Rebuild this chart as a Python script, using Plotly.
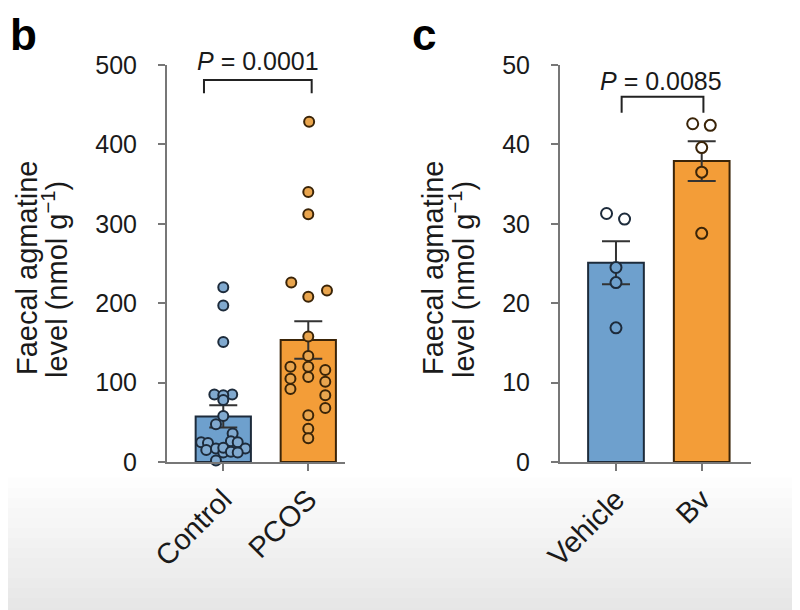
import plotly.graph_objects as go

# ---------------- data ----------------
groups_b = ["Control", "PCOS"]
groups_c = ["Vehicle", "Bv"]

bar_mean_b = [57.4, 153.6]
bar_sem_b = [14.0, 23.6]
bar_mean_c = [25.1, 37.9]
bar_sem_c = [2.7, 2.5]

control_vals = [220, 197, 151, 85, 85, 84, 78, 58, 47.5, 36,
                25, 24, 15, 17, 12, 26, 18, 13, 25, 17, 12, 2]
control_jit = [0, 0, 0, -0.105, 0.105, 0, 0, 0, -0.086, 0.11,
               -0.26, -0.18, -0.2, -0.086, 0.0, 0.09, 0.0, 0.09, 0.17, 0.26, 0.17, -0.086]

pcos_vals = [428.6, 340, 312, 226, 208, 216, 158, 133.5, 120, 107,
             120, 105, 92, 116, 101, 84, 68, 59, 42, 30]
pcos_jit = [0.01, 0, 0, -0.2, 0, 0.22, 0, 0, 0, 0,
            -0.21, -0.21, -0.21, 0.2, 0.2, 0.2, 0.2, 0, 0, 0]

vehicle_vals = [31.3, 30.6, 24.5, 22.6, 16.9]
vehicle_jit = [-0.11, 0.1, 0, 0, 0]
bv_vals = [42.6, 42.4, 39.6, 36.5, 28.8]
bv_jit = [-0.105, 0.1, 0, 0, 0]

p_b = "<i>P</i> = 0.0001"
p_c = "<i>P</i> = 0.0085"
title_line1 = "Faecal agmatine"
title_line2 = "level (nmol g<sup>−1</sup>)"

# ---------------- styles ----------------
BLUE = "#6EA0CD"
ORANGE = "#F39D38"
BLUE_EDGE = "#1d2b3b"
ORANGE_EDGE = "#3a2408"
FONT = "Liberation Sans, Arial, sans-serif"
AX = "#777777"
W, H = 800, 610
OX, OY = 8, 8  # page body offset compensation


def px(x):
    return (x - OX) / W


def py(y):
    return 1 - (y - OY) / H


fig = go.Figure()

err = dict(type="data", thickness=2, width=14, color="#333333")

fig.add_trace(go.Bar(x=[0, 1], y=bar_mean_b, width=0.65,
                     marker=dict(color=[BLUE, ORANGE], line=dict(color=[BLUE_EDGE, ORANGE_EDGE], width=2)),
                     error_y=dict(array=bar_sem_b, **err),
                     xaxis="x", yaxis="y", showlegend=False))
fig.add_trace(go.Bar(x=[0, 1], y=bar_mean_c, width=0.65,
                     marker=dict(color=[BLUE, ORANGE], line=dict(color=[BLUE_EDGE, ORANGE_EDGE], width=2)),
                     error_y=dict(array=bar_sem_c, **err),
                     xaxis="x2", yaxis="y2", showlegend=False))


def pts(vals, jit, base, fill, edge, xa, ya, size=10):
    fig.add_trace(go.Scatter(x=[base + j for j in jit], y=vals, mode="markers",
                             marker=dict(size=size, color=fill, line=dict(color=edge, width=2)),
                             xaxis=xa, yaxis=ya, showlegend=False, cliponaxis=False))


pts(control_vals, control_jit, 0, "#80A9CF", BLUE_EDGE, "x", "y")
pts(pcos_vals, pcos_jit, 1, "#E9A54E", ORANGE_EDGE, "x", "y")
# panel c: hollow rings (show bar colour inside the bar, white above it)
veh_fill = [BLUE if v <= bar_mean_c[0] else "white" for v in vehicle_vals]
bv_fill = [ORANGE if v <= bar_mean_c[1] else "white" for v in bv_vals]
pts(vehicle_vals, vehicle_jit, 0, veh_fill, BLUE_EDGE, "x2", "y2", 11)
pts(bv_vals, bv_jit, 1, bv_fill, ORANGE_EDGE, "x2", "y2", 11)

# significance brackets
fig.add_trace(go.Scatter(x=[-0.227, -0.227, 1.04, 1.04], y=[464.5, 481, 481, 464.5], mode="lines",
                         line=dict(color="#222222", width=2), xaxis="x", yaxis="y",
                         showlegend=False, cliponaxis=False))
fig.add_trace(go.Scatter(x=[0.066, 0.066, 1.02, 1.02], y=[44.0, 46.0, 46.0, 44.0], mode="lines",
                         line=dict(color="#222222", width=2), xaxis="x2", yaxis="y2",
                         showlegend=False, cliponaxis=False))

ydom = [py(462), py(65)]
common_y = dict(showgrid=False, zeroline=False, showline=True, linecolor=AX, linewidth=2,
                ticks="outside", ticklen=7, tickwidth=2, tickcolor=AX, automargin=False,
                tickfont=dict(family=FONT, size=25, color="#1a1a1a"),
                ticklabelstandoff=16, domain=ydom)
common_x = dict(showgrid=False, zeroline=False, showline=True, linecolor=AX, linewidth=2,
                ticks="outside", ticklen=7, tickwidth=2, tickcolor=AX, automargin=False,
                tickfont=dict(family=FONT, size=29, color="#1a1a1a"),
                tickangle=-45, tickvals=[0, 1], ticklabelstandoff=0)

fig.update_layout(
    width=W, height=H,
    margin=dict(l=0, r=0, t=0, b=0, autoexpand=False),
    paper_bgcolor="white", plot_bgcolor="white",
    xaxis=dict(domain=[px(167), px(345)], range=[-0.662, 1.432], ticktext=groups_b,
               anchor="y", **common_x),
    yaxis=dict(range=[0, 500], tickvals=[0, 100, 200, 300, 400, 500], anchor="x", **common_y),
    xaxis2=dict(domain=[px(560), px(751)], range=[-0.653, 1.575], ticktext=groups_c,
                anchor="y2", **common_x),
    yaxis2=dict(range=[0, 50], tickvals=[0, 10, 20, 30, 40, 50], anchor="x2", **common_y),
)

# light grey gradient backdrop at the bottom (screenshot look)
n = 14
for i in range(n):
    y0 = 140 * i / n
    g = int(230 + 25 * (i / n))
    fig.add_shape(type="rect", xref="paper", yref="paper", x0=0, x1=1,
                  y0=y0 / H, y1=(y0 + 140 / n + 0.5) / H, line=dict(width=0),
                  fillcolor=f"rgb({g},{g},{g})", layer="below")

# y-axis titles, one annotation per line
for x1, x2 in ((27, 55), (433, 462)):
    fig.add_annotation(text=title_line1, xref="paper", yref="paper", x=px(x1), y=py(268),
                       textangle=-90, showarrow=False, xanchor="center", yanchor="middle",
                       font=dict(family=FONT, size=29, color="#1a1a1a"))
    fig.add_annotation(text=title_line2, xref="paper", yref="paper", x=px(x2), y=py(280),
                       textangle=-90, showarrow=False, xanchor="center", yanchor="middle",
                       font=dict(family=FONT, size=29, color="#1a1a1a"))

fig.add_annotation(text=p_b, xref="paper", yref="paper", x=px(258), y=py(61), showarrow=False,
                   xanchor="center", yanchor="middle",
                   font=dict(family=FONT, size=25, color="#1a1a1a"))
fig.add_annotation(text=p_c, xref="paper", yref="paper", x=px(661), y=py(81), showarrow=False,
                   xanchor="center", yanchor="middle",
                   font=dict(family=FONT, size=25, color="#1a1a1a"))

fig.add_annotation(text="<b>b</b>", xref="paper", yref="paper", x=0, y=1,
                   showarrow=False, xanchor="left", yanchor="top",
                   font=dict(family=FONT, size=44, color="black"))
fig.add_annotation(text="<b>c</b>", xref="paper", yref="paper", x=px(410), y=1,
                   showarrow=False, xanchor="left", yanchor="top",
                   font=dict(family=FONT, size=44, color="black"))

fig.write_html("out.html")
